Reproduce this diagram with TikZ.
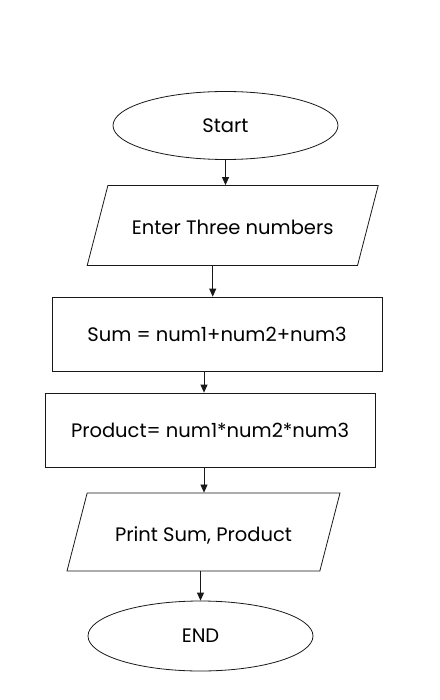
\documentclass[tikz,border=0pt]{standalone}
\usepackage{fontspec}
\setmainfont{Poppins}
\usetikzlibrary{shapes.geometric,arrows.meta,calc}
\definecolor{lineblack}{RGB}{25,25,25}

\begin{document}
\begin{tikzpicture}[x=1pt, y=-1pt,
  chartfont/.style={font=\fontsize{19.5}{22}\selectfont},
  terminal/.style={draw=lineblack, ellipse, line width=0.8pt, minimum width=225pt, minimum height=68pt, inner sep=0pt, chartfont},
  iobox/.style={draw=lineblack, trapezium, trapezium left angle=75.5, trapezium right angle=104.5, trapezium stretches body, line width=0.8pt, text height=18pt, text depth=0pt, inner xsep=0pt, inner ysep=31pt, chartfont},
  procbox/.style={draw=lineblack, rectangle, line width=0.8pt, minimum width=330pt, minimum height=74pt, inner sep=0pt, chartfont},
  flow/.style={draw=lineblack, line width=0.8pt, -{Triangle[length=8pt,width=7pt]}}]
  \fill[white] (0,0) rectangle (439,700);
  \node[terminal] (start) at (225.5,125.5) {Start};
  \node[iobox, minimum width=291pt] (enter) at (232.7,225.5) {Enter Three numbers};
  \node[procbox] (sum) at (217,334) {Sum = num1+num2+num3};
  \node[procbox] (prod) at (210,430) {Product= num1*num2*num3};
  \node[iobox, minimum width=273pt, inner ysep=30pt] (print) at (203.5,532) {Print Sum, Product};
  \node[terminal, minimum height=70pt] (end) at (200.5,636) {END};
  \draw[flow] (start.south) -- (start.south |- enter.north);
  \draw[flow] ([xshift=-20pt]enter.south) -- ([xshift=-20pt]enter.south |- sum.north);
  \draw[flow] ([xshift=-13pt]sum.south) -- ([xshift=-13pt]sum.south |- prod.north);
  \draw[flow] ([xshift=-6pt]prod.south) -- ([xshift=-6pt]prod.south |- print.north);
  \draw[flow] (print.south -| end.north) -- (end.north);
\end{tikzpicture}
\end{document}
